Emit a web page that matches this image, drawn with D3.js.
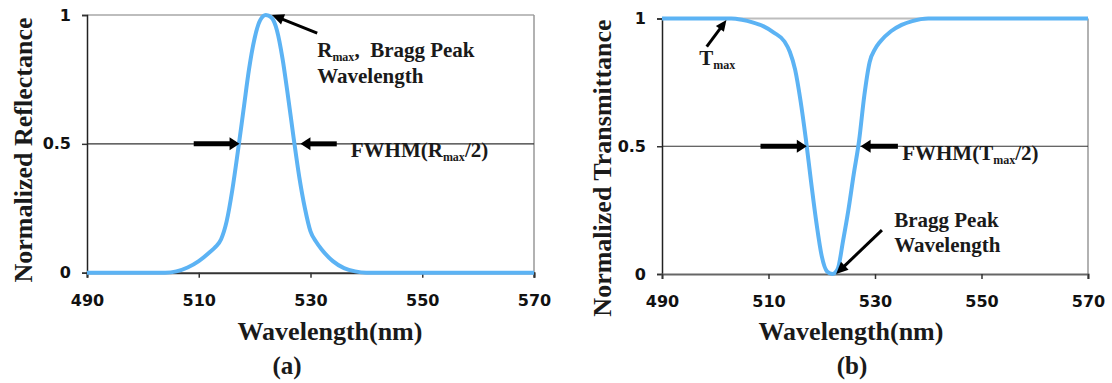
<!DOCTYPE html>
<html>
<head>
<meta charset="utf-8">
<script src="https://cdn.jsdelivr.net/npm/d3@7"></script>
<style>
  body { margin: 0; background: #fff; }
</style>
</head>
<body>
<svg id="chart" width="1112" height="383"></svg>
<script>
// axis ticks
const xTicks = [490, 510, 530, 550, 570];
const yTicks = [0, 0.5, 1];
const yTickLabels = ["0", "0.5", "1"];

// (a) reflectance spectrum
const reflWavelength = [490, 500, 504, 506, 508, 510, 512, 513, 514, 515, 516, 517, 518, 519, 520, 521, 522, 523, 524, 525, 526, 527, 528, 529, 530, 531, 532, 534, 536, 538, 540, 570];
const reflectance    = [0, 0, 0, 0.005, 0.02, 0.045, 0.08, 0.1, 0.13, 0.2, 0.32, 0.47, 0.63, 0.79, 0.91, 0.98, 1, 0.99, 0.94, 0.83, 0.68, 0.52, 0.37, 0.25, 0.16, 0.12, 0.09, 0.045, 0.018, 0.005, 0, 0];

// (b) transmittance spectrum
const transWavelength = [490, 500, 503, 505, 507, 509, 511, 513, 514, 515, 516, 517, 518, 519, 520, 521, 522, 523, 524, 525, 526, 527, 528, 529, 530, 531, 533, 535, 537, 540, 570];
const transmittance   = [1, 1, 1, 0.995, 0.985, 0.97, 0.945, 0.91, 0.87, 0.8, 0.68, 0.53, 0.36, 0.2, 0.07, 0.01, 0, 0.02, 0.13, 0.25, 0.39, 0.52, 0.7, 0.83, 0.88, 0.91, 0.95, 0.975, 0.99, 1, 1];

const svg = d3.select("#chart");
const serif = "'Liberation Serif', 'Times New Roman', serif";
const sans = "'DejaVu Sans', Verdana, sans-serif";
const blue = "#5cb3f4";

const panels = [
  {
    name: "(a)", xs: reflWavelength, ys: reflectance,
    left: 87, right: 534, top: 15, bottom: 272.7,
    yTitle: "Normalized Reflectance", yTitleX: 23, yTitleY: 150, xTitleX: 330, capX: 287,
    bottomColor: "#333"
  },
  {
    name: "(b)", xs: transWavelength, ys: transmittance,
    left: 662, right: 1088, top: 18.5, bottom: 274,
    yTitle: "Normalized Transmittance", yTitleX: 602, yTitleY: 168, xTitleX: 851, capX: 852,
    bottomColor: "#666"
  }
];

// filled arrow from (x1,y1) to tip (x2,y2), in pixels
function arrow(g, x1, y1, x2, y2, shaft, headLen, headW) {
  const dx = x2 - x1, dy = y2 - y1, len = Math.hypot(dx, dy);
  const ux = dx / len, uy = dy / len, nx = -uy, ny = ux;
  const bx = x2 - ux * headLen, by = y2 - uy * headLen;
  g.append("line")
    .attr("x1", x1).attr("y1", y1).attr("x2", bx + ux).attr("y2", by + uy)
    .attr("stroke", "#000").attr("stroke-width", shaft);
  g.append("path")
    .attr("d", `M${x2},${y2}L${bx + nx * headW / 2},${by + ny * headW / 2}L${bx - nx * headW / 2},${by - ny * headW / 2}Z`)
    .attr("fill", "#000");
}

function label(g, x, y, s) {
  return g.append("text").attr("x", x).attr("y", y)
    .style("font-family", serif).style("font-weight", "bold")
    .style("font-size", "21px").attr("fill", "#1a1a1a").text(s);
}

// text with a "max" subscript: parts = [before, sub, after]
function subText(g, x, y, parts) {
  const t = label(g, x, y, null);
  t.append("tspan").text(parts[0]);
  t.append("tspan").attr("dy", 4).style("font-size", "12px").text(parts[1]);
  t.append("tspan").attr("dy", -4).style("white-space", "pre").text(parts[2]);
  return t;
}

function drawPanel(p) {
  const x = d3.scaleLinear().domain([490, 570]).range([p.left, p.right]);
  const y = d3.scaleLinear().domain([0, 1]).range([p.bottom, p.top]);
  const g = svg.append("g");

  // top line and right border
  g.append("line").attr("x1", x(490)).attr("x2", x(570)).attr("y1", y(1)).attr("y2", y(1))
    .attr("stroke", "#bdbdbd").attr("stroke-width", 2);
  g.append("line").attr("x1", x(570)).attr("x2", x(570)).attr("y1", y(1)).attr("y2", y(0) + 5)
    .attr("stroke", "#999").attr("stroke-width", 1.5);
  // half-max line
  g.append("line").attr("x1", x(490)).attr("x2", x(570)).attr("y1", y(0.5)).attr("y2", y(0.5))
    .attr("stroke", "#333").attr("stroke-width", 1.2);

  // axes
  const ya = g.append("g").attr("transform", `translate(${p.left},0)`)
    .call(d3.axisLeft(y).tickValues(yTicks).tickSize(5).tickPadding(11)
      .tickFormat((d, i) => yTickLabels[i]));
  const xa = g.append("g").attr("transform", `translate(0,${p.bottom})`)
    .call(d3.axisBottom(x).tickValues(xTicks).tickSize(5).tickPadding(17));
  ya.select(".domain").attr("stroke", "#222").attr("stroke-width", 1.5);
  xa.select(".domain").attr("stroke", p.bottomColor).attr("stroke-width", 2);
  [ya, xa].forEach(a => {
    a.selectAll(".tick line").attr("stroke", "#333").attr("stroke-width", 1.5);
    a.selectAll(".tick text").style("font-family", sans).style("font-weight", "bold")
      .style("font-size", "16px").attr("fill", "#111");
  });

  // spectrum curve
  const pts = p.xs.map((v, i) => [v, p.ys[i]]);
  g.append("path").datum(pts)
    .attr("fill", "none").attr("stroke", blue).attr("stroke-width", 4)
    .attr("stroke-linejoin", "round")
    .attr("d", d3.line().x(d => x(d[0])).y(d => y(d[1])).curve(d3.curveMonotoneX));

  // titles
  g.append("text")
    .attr("transform", `translate(${p.yTitleX},${p.yTitleY}) rotate(-90)`)
    .attr("text-anchor", "middle").attr("dy", "0.35em")
    .style("font-family", serif).style("font-weight", "bold").style("font-size", "26px")
    .attr("fill", "#1a1a1a").text(p.yTitle);
  g.append("text").attr("x", p.xTitleX).attr("y", 340).attr("text-anchor", "middle")
    .style("font-family", serif).style("font-weight", "bold").style("font-size", "26px")
    .attr("fill", "#1a1a1a").text("Wavelength(nm)");
  g.append("text").attr("x", p.capX).attr("y", 374).attr("text-anchor", "middle")
    .style("font-family", serif).style("font-weight", "bold").style("font-size", "25px")
    .attr("fill", "#1a1a1a").text(p.name);

  return { g, x, y };
}

// panel (a)
{
  const { g, x, y } = drawPanel(panels[0]);
  arrow(g, x(531.2), y(0.93), x(523.1), y(1), 3, 12, 11);
  subText(g, x(531.2), y(0.837), ["R", "max", ",  Bragg Peak"]);
  label(g, x(531.2), y(0.738), "Wavelength");
  arrow(g, x(509.1), y(0.5), x(517.3), y(0.5), 5, 10, 13);
  arrow(g, x(534.7), y(0.5), x(528.2), y(0.5), 5, 10, 13);
  subText(g, x(537.2), y(0.449), ["FWHM(R", "max", "/2)"]);
}

// panel (b)
{
  const { g, x, y } = drawPanel(panels[1]);
  arrow(g, x(498.4), y(0.89), x(502.1), y(0.994), 3, 11, 10);
  subText(g, x(497.0), y(0.818), ["T", "max", ""]);
  arrow(g, x(508.5), y(0.5), x(517.2), y(0.5), 5, 10, 13);
  arrow(g, x(534.3), y(0.5), x(527.3), y(0.5), 5, 10, 13);
  subText(g, x(535.1), y(0.446), ["FWHM(T", "max", "/2)"]);
  label(g, x(533.6), y(0.184), "Bragg Peak");
  label(g, x(533.6), y(0.086), "Wavelength");
  arrow(g, x(531.3), y(0.172), x(522.7), y(0), 3, 12, 11);
}
</script>
</body>
</html>
